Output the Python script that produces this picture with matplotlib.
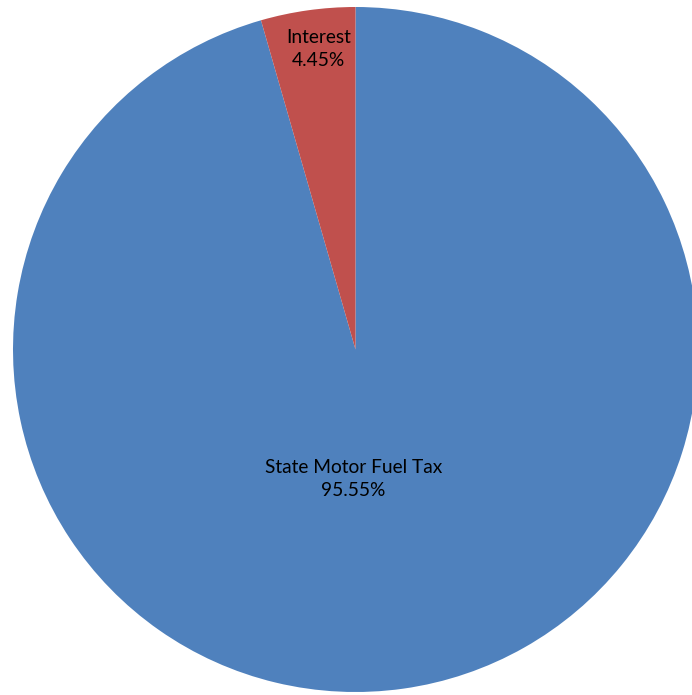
import matplotlib
matplotlib.use("Agg")
import matplotlib.pyplot as plt

categories = ["State Motor Fuel Tax", "Interest"]
values = [95.55, 4.45]
colors = ["#4F81BD", "#C0504D"]
label_pos = [(-0.006, -0.378), (-0.108, 0.877)]

W, H = 692, 695
fig = plt.figure(figsize=(W / 100, H / 100), dpi=100)
R = 342.5
cx, cy = 355.5, 349.5
ax = fig.add_axes([(cx - R) / W, (H - cy - R) / H, 2 * R / W, 2 * R / H])
ax.pie(values, colors=colors, startangle=90, counterclock=False, radius=1,
       wedgeprops=dict(linewidth=0))
ax.set_xlim(-1, 1)
ax.set_ylim(-1, 1)
ax.set_aspect("equal")
ax.axis("off")

for cat, val, (x, y) in zip(categories, values, label_pos):
    ax.text(x, y, f"{cat}\n{val:.2f}%", ha="center", va="center",
            fontsize=13.8, family=["Lato", "DejaVu Sans"], color="black",
            linespacing=1.45)

fig.savefig("out.png", dpi=100)
